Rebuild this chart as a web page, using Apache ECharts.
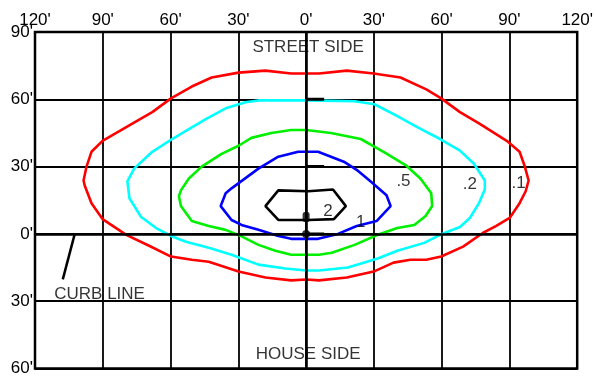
<!DOCTYPE html>
<html>
<head>
<meta charset="utf-8">
<script src="https://cdn.jsdelivr.net/npm/echarts@6/dist/echarts.min.js"></script>
<style>html,body{margin:0;padding:0;background:#fff;}#c{width:596px;height:377px;}</style>
</head>
<body>
<div id="c"></div>
<script>
// Tick values and labels (feet)
const xTicks = [-120, -90, -60, -30, 0, 30, 60, 90, 120];
const xTickLabels = ["120'", "90'", "60'", "30'", "0'", "30'", "60'", "90'", "120'"];
const yTicks = [-60, -30, 0, 30, 60, 90];
const yTickLabels = ["60'", "30'", "0'", "30'", "60'", "90'"];

// Isofootcandle contours, [feet along street, feet from curb]
const contour01 = [[0,71.5],[5.7,71.5],[18.0,72.8],[29.9,71.5],[41.8,69.7],[53.2,64.4],[59.8,60.4],[68.1,54.3],[76.9,49.0],[88.8,41.5],[94.5,36.6],[96.7,30.4],[98.5,23.8],[97.2,19.0],[94.5,13.7],[90.1,7.1],[84.0,3.5],[78.2,0.4],[69.5,-5.7],[59.8,-10.1],[53.2,-11.5],[46.2,-11.5],[38.7,-12.8],[29.9,-16.8],[18.0,-19.4],[5.7,-20.7],[0,-20.3],[-6.6,-20.7],[-18.0,-19.4],[-29.9,-16.8],[-43.1,-12.4],[-50.6,-11.5],[-59.8,-10.1],[-69.5,-5.3],[-79.6,-0.4],[-90.1,6.6],[-95.0,13.7],[-98.0,21.6],[-98.5,23.8],[-97.2,30.0],[-95.0,36.6],[-90.1,41.5],[-79.6,47.6],[-68.1,54.3],[-59.8,60.4],[-50.6,65.7],[-41.8,69.7],[-29.9,71.9],[-18.0,72.8],[-6.6,71.5],[0,71.5]];
const contour02 = [[0,59.5],[21.5,59.1],[30.3,57.8],[40.4,52.5],[49.2,47.6],[59.3,42.3],[68.1,37.1],[74.3,31.3],[79.1,23.8],[79.1,19.8],[76.5,13.7],[72.5,7.1],[68.1,3.1],[59.3,-0.4],[52.3,-4.0],[40.4,-7.5],[31.7,-11.0],[18.5,-15.0],[5.7,-16.3],[0,-16.3],[-9.2,-15.4],[-21.1,-13.7],[-33.0,-9.3],[-43.1,-6.2],[-53.2,-3.5],[-59.8,-0.9],[-66.4,2.6],[-73.0,7.5],[-78.2,15.9],[-79.1,23.4],[-76.1,29.1],[-68.1,36.6],[-59.3,42.3],[-53.2,45.9],[-44.4,51.2],[-35.6,56.0],[-26.8,58.7],[-21.1,59.5],[0,59.5]];
const contour05 = [[0,46.3],[11.0,45.0],[24.2,42.3],[34.3,36.6],[44.4,30.4],[50.6,24.7],[55.4,18.1],[55.8,12.4],[52.8,7.9],[47.9,4.0],[40.4,2.6],[31.7,-0.4],[21.5,-4.9],[11.4,-8.4],[5.7,-9.3],[0,-9.3],[-6.6,-9.3],[-13.6,-7.5],[-21.1,-4.9],[-29.0,-0.9],[-35.6,1.8],[-43.1,3.5],[-50.6,5.7],[-55.4,12.4],[-56.3,16.8],[-55.4,19.4],[-51.9,24.7],[-46.2,30.0],[-37.4,35.7],[-29.9,39.3],[-24.2,42.8],[-15.4,45.0],[-6.6,46.3],[0,46.3]];
const contour1 = [[0,36.6],[5.3,36.6],[16.7,32.2],[22.9,28.2],[28.6,23.4],[35.6,17.2],[37.4,12.4],[31.2,5.7],[22.4,3.5],[14.1,0],[5.3,-2.2],[0,-2.2],[-6.6,-2.2],[-12.3,-0.9],[-21.1,1.8],[-28.6,4.0],[-33.0,6.2],[-37.8,12.4],[-35.6,18.1],[-33.0,20.3],[-21.1,29.1],[-12.3,34.4],[-3.5,36.6],[0,36.6]];
const contour2 = [[0.9,19.0],[11.9,19.8],[17.6,12.4],[12.3,6.6],[0.9,6.2],[-12.3,6.2],[-18.0,12.4],[-12.3,19.4],[0.9,19.0]];

// Curb line pointer and pole markers
const curbPointer = [[-102.4,0],[-107.7,-20.3]];
const tickMarks = [[[0,60],[8,60]],[[0,30],[8,30]],[[0,0],[8,0]]];
const poleBase = [0, 0];
const poleArm = [0, 7.5];

// Text annotations
const contourLabelText = [".5", ".2", ".1", "2", "1"];
const contourLabelPos = [[43.1,24.7],[72.5,23.4],[94.1,23.8],[9.7,11.5],[24.2,6.6]];
const noteText = ["STREET SIDE", "HOUSE SIDE", "CURB LINE"];
const notePos = [[0.9,84.3],[0.9,-52.5],[-91.4,-25.6]];

const FONT = 'Liberation Sans';
function contourSeries(data, color) {
  return { type: 'line', data: data, symbol: 'none', showSymbol: false, smooth: false,
    lineStyle: { color: color, width: 2.6 }, z: 3, silent: true };
}
const textData = [];
contourLabelText.forEach((t, i) => textData.push({ name: t, value: contourLabelPos[i] }));
noteText.forEach((t, i) => textData.push({ name: t, value: notePos[i] }));

const series = [
  contourSeries(contour01, '#ff0000'),
  contourSeries(contour02, '#00ffff'),
  contourSeries(contour05, '#00f000'),
  contourSeries(contour1, '#0000ff'),
  contourSeries(contour2, '#000000'),
  { type: 'line', data: curbPointer, symbol: 'none', lineStyle: { color: '#000', width: 2.5 }, z: 4, silent: true },
  { type: 'line', data: [], symbol: 'none', silent: true,
    markLine: { silent: true, symbol: 'none', label: { show: false },
      lineStyle: { color: '#000', width: 2.6, type: 'solid' },
      data: [{ xAxis: 0 }, { yAxis: 0 }] } }
];
tickMarks.forEach(seg => series.push({ type: 'line', data: seg, symbol: 'none', lineStyle: { color: '#000', width: 3 }, z: 4, silent: true }));
series.push({ type: 'scatter', data: [poleBase], symbol: 'circle', symbolSize: 8, itemStyle: { color: '#000' }, z: 6, silent: true });
series.push({ type: 'scatter', data: [poleArm], symbol: 'roundRect', symbolSize: [7, 10], itemStyle: { color: '#000' }, z: 6, silent: true });
series.push({ type: 'scatter', data: textData, symbolSize: 0, z: 7, silent: true,
  label: { show: true, position: 'inside', offset: [0, 3], formatter: p => p.name, color: '#000', fontFamily: FONT, fontSize: 17 } });

const chart = echarts.init(document.getElementById('c'), null, { renderer: 'canvas' });
chart.setOption({
  animation: false,
  backgroundColor: '#fff',
  grid: { left: 35, right: 15, top: 32, bottom: 5, show: true, borderColor: '#000', borderWidth: 2.5, backgroundColor: 'transparent' },
  xAxis: { type: 'value', position: 'top', min: -120, max: 120, interval: 30,
    axisLine: { show: false }, axisTick: { show: false },
    splitLine: { show: true, lineStyle: { color: '#000', width: 1.8 } },
    axisLabel: { margin: 3, color: '#000', fontFamily: FONT, fontSize: 17, showMinLabel: true, showMaxLabel: true,
      formatter: v => xTickLabels[xTicks.indexOf(v)] } },
  yAxis: { type: 'value', min: -60, max: 90, interval: 30,
    axisLine: { show: false }, axisTick: { show: false },
    splitLine: { show: true, lineStyle: { color: '#000', width: 1.8 } },
    axisLabel: { margin: 2, color: '#000', fontFamily: FONT, fontSize: 17, showMinLabel: true, showMaxLabel: true,
      padding: [10, 0, 0, 0],
      formatter: v => yTickLabels[yTicks.indexOf(v)] } },
  series: series
});
</script>
</body>
</html>
